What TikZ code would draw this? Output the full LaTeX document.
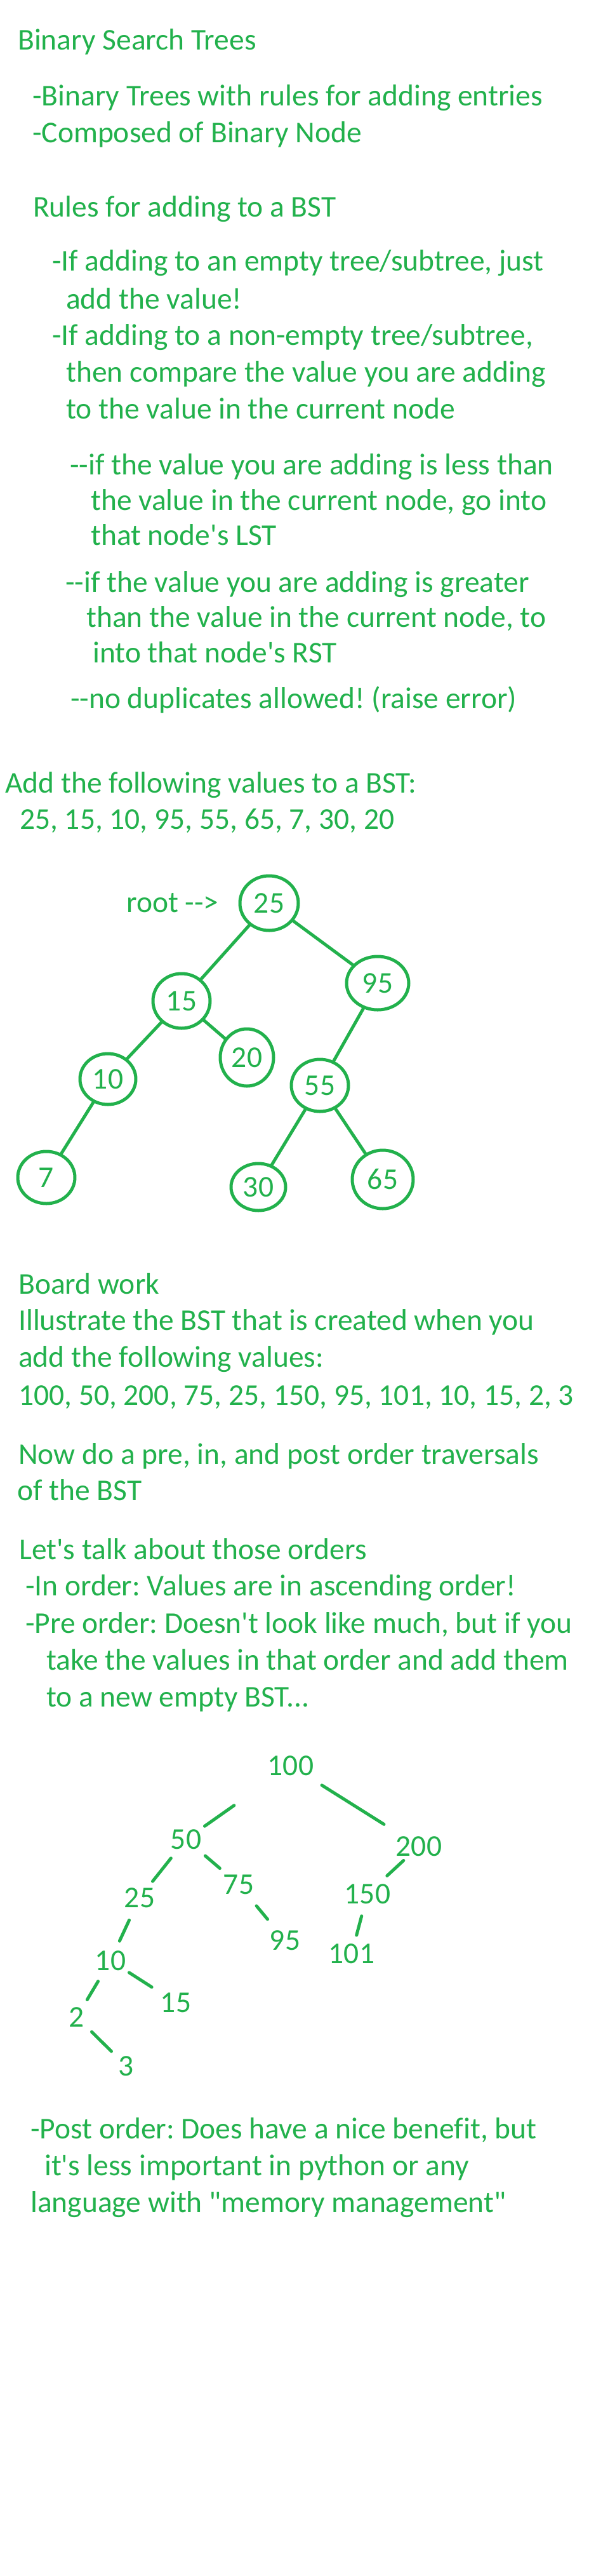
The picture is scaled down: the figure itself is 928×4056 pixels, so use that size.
\documentclass[tikz,border=0pt]{standalone}
\usepackage{fontspec}
\setmainfont{Carlito}[Ligatures={TeXOff,CommonOff}]
\usetikzlibrary{shapes.geometric}
\definecolor{paintgreen}{RGB}{34,177,76}
\frenchspacing
\begin{document}
\begin{tikzpicture}[x=1pt,y=-1pt,line join=round,line cap=round,
	txt/.style={anchor=base west,inner sep=0pt,text=paintgreen,font=\fontsize{47.5}{57}\selectfont},
	num/.style={inner sep=0pt,text=paintgreen,font=\fontsize{47.5}{57}\selectfont},
	bst/.style={num,ellipse,draw=paintgreen,line width=5pt,minimum width=90,minimum height=86},
	lnk/.style={draw=paintgreen,line width=5pt}]
	\useasboundingbox (0,0) rectangle (928,4056);
	% notes
	\node[txt] (T1) at (28,78) {Binary Search Trees};
	\node[txt] (T2) at (51,166) {-Binary Trees with rules for adding entries};
	\node[txt] (T3) at (51,224) {-Composed of Binary Node};
	\node[txt] (T4) at (52,341) {Rules for adding to a BST};
	\node[txt] (T5) at (82,426) {-If adding to an empty tree/subtree, just};
	\node[txt] (T6) at (104,486) {add the value!};
	\node[txt] (T7) at (82,543) {-If adding to a non-empty tree/subtree,};
	\node[txt] (T8) at (104,601) {then compare the value you are adding};
	\node[txt] (T9) at (104,659) {to the value in the current node};
	\node[txt] (T10) at (110,747) {--if the value you are adding is less than};
	\node[txt] (T11) at (143,803) {the value in the current node, go into};
	\node[txt] (T12) at (143,858) {that node's LST};
	\node[txt] (T13) at (103,932) {--if the value you are adding is greater};
	\node[txt] (T14) at (136,987) {than the value in the current node, to};
	\node[txt] (T15) at (146,1043) {into that node's RST};
	\node[txt] (T16) at (111,1115) {--no duplicates allowed! (raise error)};
	\node[txt] (T17) at (8,1248) {Add the following values to a BST:};
	\node[txt] (T18) at (31,1305) {25, 15, 10, 95, 55, 65, 7, 30, 20};
	% first tree
	\node[txt] (R) at (199,1436) {root -->};
	\node[bst,minimum width=92] (a25) at (424,1422) {25};
	\node[bst,minimum width=98,minimum height=84] (a95) at (595,1548) {95};
	\node[bst] (a15) at (286,1576) {15};
	\node[bst,minimum width=84,minimum height=90] (a20) at (389,1665) {20};
	\node[bst,minimum width=88,minimum height=80] (a10) at (170,1699) {10};
	\node[bst,minimum height=82] (a55) at (504,1709) {55};
	\node[bst,minimum height=82] (a7) at (73,1854) {7};
	\node[bst,minimum width=86,minimum height=74] (a30) at (407,1869) {30};
	\node[bst,minimum width=96,minimum height=92] (a65) at (603,1857) {65};
	\draw[lnk] (a25)--(a15);
	\draw[lnk] (a25)--(a95);
	\draw[lnk] (a15)--(a10);
	\draw[lnk] (a15)--(a20);
	\draw[lnk] (a95)--(a55);
	\draw[lnk] (a10)--(a7);
	\draw[lnk] (a55)--(a30);
	\draw[lnk] (a55)--(a65);
	% board work
	\node[txt] (T19) at (29,2037) {Board work};
	\node[txt] (T20) at (29,2094) {Illustrate the BST that is created when you};
	\node[txt] (T21) at (29,2152) {add the following values:};
	\node[txt] (T22) at (29,2212) {100, 50, 200, 75, 25, 150, 95, 101, 10, 15, 2, 3};
	\node[txt] (T23) at (29,2305) {Now do a pre, in, and post order traversals};
	\node[txt] (T24) at (27,2362) {of the BST};
	\node[txt] (T25) at (30,2455) {Let's talk about those orders};
	\node[txt] (T26) at (40,2512) {-In order: Values are in ascending order!};
	\node[txt] (T27) at (40,2571) {-Pre order: Doesn't look like much, but if you};
	\node[txt] (T28) at (73,2629) {take the values in that order and add them};
	\node[txt] (T29) at (73,2687) {to a new empty BST...};
	% second tree
	\node[num] (b100) at (458,2780) {100};
	\node[num] (b50) at (293,2896) {50};
	\node[num] (b200) at (660,2907) {200};
	\node[num] (b75) at (376,2967) {75};
	\node[num] (b25) at (220,2988) {25};
	\node[num] (b150) at (579,2982) {150};
	\node[num] (b95) at (449,3055) {95};
	\node[num] (b101) at (554,3076) {101};
	\node[num] (b10) at (174,3087) {10};
	\node[num] (b15) at (277,3153) {15};
	\node[num] (b2) at (121,3176) {2};
	\node[num] (b3) at (199,3253) {3};
	\draw[lnk,shorten <=109,shorten >=36] (b100.center)--(b50.center);
	\draw[lnk,shorten <=58,shorten >=65] (b100.center)--(b200.center);
	\draw[lnk,shorten <=38,shorten >=33] (b50.center)--(b25.center);
	\draw[lnk,shorten <=40,shorten >=39] (b50.center)--(b75.center);
	\draw[lnk,shorten <=33,shorten >=42] (b200.center)--(b150.center);
	\draw[lnk,shorten <=39,shorten >=34] (b25.center)--(b10.center);
	\draw[lnk,shorten <=44,shorten >=43] (b75.center)--(b95.center);
	\draw[lnk,shorten <=36,shorten >=30] (b150.center)--(b101.center);
	\draw[lnk,shorten <=35,shorten >=45] (b10.center)--(b15.center);
	\draw[lnk,shorten <=38,shorten >=32] (b10.center)--(b2.center);
	\draw[lnk,shorten <=33,shorten >=33] (b2.center)--(b3.center);
	% post order
	\node[txt] (T30) at (48,3367) {-Post order: Does have a nice benefit, but};
	\node[txt] (T31) at (70,3425) {it's less important in python or any};
	\node[txt] (T32) at (48,3483) {language with "memory management"};
\end{tikzpicture}
\end{document}
